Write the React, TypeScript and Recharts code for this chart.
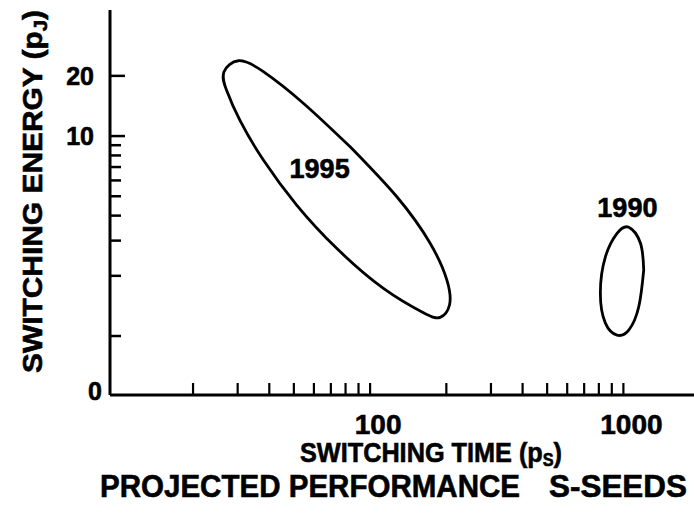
import { LineChart, Line, XAxis, YAxis, ReferenceDot } from 'recharts';

const X_MIN = 9.4;
const X_MAX = 1900;
const Y_MIN = 0.507;
const Y_MAX = 42.7;

const timeTicks = [20, 30, 40, 50, 60, 70, 80, 90, 100, 200, 300, 400, 500, 600, 700, 800, 900, 1000];
const timeLabels = [100, 1000];
const energyTicks = [Y_MIN, 1, 2, 3, 4, 5, 6, 7, 8, 9, 10, 20];
const energyLabels = [10, 20];

// outline of the 1995 region, clockwise from the middle of the upper edge
const seeds1995 = [
  { t: 83.4, e: 8.84 },
  { t: 127.5, e: 4.97 },
  { t: 172.6, e: 2.91 },
  { t: 201, e: 1.905 },
  { t: 205.8, e: 1.429 },
  { t: 189.1, e: 1.24 },
  { t: 162.4, e: 1.308 },
  { t: 112.9, e: 1.73 },
  { t: 73.8, e: 2.745 },
  { t: 51.3, e: 4.52 },
  { t: 37.9, e: 7.59 },
  { t: 30.6, e: 12.0 },
  { t: 27.1, e: 17.0 },
  { t: 26.5, e: 20.96 },
  { t: 30.2, e: 23.8 },
  { t: 37.9, e: 21.0 },
  { t: 54.5, e: 14.6 },
  { t: 83.4, e: 8.84 },
];

// outline of the 1990 region
const seeds1990 = [
  { t: 1203, e: 2.14 },
  { t: 1150, e: 1.4 },
  { t: 1050, e: 1.07 },
  { t: 944, e: 1.01 },
  { t: 849, e: 1.16 },
  { t: 811, e: 1.64 },
  { t: 849, e: 2.49 },
  { t: 944, e: 3.26 },
  { t: 1050, e: 3.5 },
  { t: 1168, e: 2.91 },
  { t: 1203, e: 2.14 },
];

const regionLabels = [
  { name: '1995', t: 63.2, e: 6.92 },
  { name: '1990', t: 1037, e: 4.42 },
];

const FONT = '"Liberation Sans", Arial, Helvetica, sans-serif';
const INK = '#000';
// the scanned lettering is heavier than a plain bold face
const heavy = { stroke: INK, strokeWidth: 0.6 };

function EnergyTick({ x, y, payload }: any) {
  const v = payload.value;
  if (v === Y_MIN) {
    return (
      <text x={x - 8} y={y - 4} dy="0.36em" textAnchor="end" fontFamily={FONT} fontWeight="bold" fontSize={25} fill={INK} {...heavy}>
        0
      </text>
    );
  }
  const major = energyLabels.includes(v);
  return (
    <g>
      <line x1={x} x2={x + (major ? 15 : 11)} y1={y} y2={y} stroke={INK} strokeWidth={2.5} />
      {major && (
        <text x={x - 16} y={y} dy="0.36em" textAnchor="end" fontFamily={FONT} fontWeight="bold" fontSize={25} fill={INK} {...heavy}>
          {v}
        </text>
      )}
    </g>
  );
}

function TimeTick({ x, y, payload }: any) {
  const v = payload.value;
  return (
    <g>
      <line x1={x} x2={x} y1={y} y2={y - 12} stroke={INK} strokeWidth={2.2} />
      {timeLabels.includes(v) && (
        <text x={x + 8} y={y + 39} textAnchor="middle" fontFamily={FONT} fontWeight="bold" fontSize={28} fill={INK} {...heavy}>
          {v}
        </text>
      )}
    </g>
  );
}

export default function App() {
  return (
    <div style={{ position: 'absolute', left: 0, top: 0, width: 694, height: 521, background: '#fff' }}>
      <LineChart width={694} height={521} margin={{ top: 10, right: 0, bottom: 0, left: 0 }}>
        <XAxis
          dataKey="t"
          type="number"
          scale="log"
          domain={[X_MIN, X_MAX]}
          allowDataOverflow
          ticks={timeTicks}
          interval={0}
          height={126}
          tickSize={0}
          tickMargin={0}
          tickLine={false}
          tick={<TimeTick />}
          axisLine={{ stroke: INK, strokeWidth: 3 }}
        />
        <YAxis
          dataKey="e"
          type="number"
          scale="log"
          domain={[Y_MIN, Y_MAX]}
          allowDataOverflow
          ticks={energyTicks}
          interval={0}
          width={110}
          tickSize={0}
          tickMargin={0}
          tickLine={false}
          tick={<EnergyTick />}
          axisLine={{ stroke: INK, strokeWidth: 3 }}
        />
        <Line data={seeds1995} dataKey="e" type="natural" stroke={INK} strokeWidth={2.8} dot={false} isAnimationActive={false} />
        <Line data={seeds1990} dataKey="e" type="natural" stroke={INK} strokeWidth={2.8} dot={false} isAnimationActive={false} />
        {regionLabels.map((r) => (
          <ReferenceDot
            key={r.name}
            x={r.t}
            y={r.e}
            r={0}
            fill="none"
            stroke="none"
            label={{ value: r.name, position: 'center', fontSize: 27, fontWeight: 'bold', fill: INK, fontFamily: FONT, ...heavy }}
          />
        ))}
      </LineChart>
      <svg width={694} height={521} style={{ position: 'absolute', left: 0, top: 0, pointerEvents: 'none' }}>
        <g fontFamily={FONT} fontWeight="bold" fill={INK} {...heavy}>
          <text x={42} y={373} transform="rotate(-90 42 373)" fontSize={28} textLength={363} lengthAdjust="spacingAndGlyphs">
            SWITCHING ENERGY (p<tspan fontSize={19} dy={5}>J</tspan><tspan dy={-5}>)</tspan>
          </text>
          <text x={300} y={462} fontSize={28} textLength={262} lengthAdjust="spacingAndGlyphs">
            SWITCHING TIME (p<tspan fontSize={18} dy={4}>S</tspan><tspan dy={-4}>)</tspan>
          </text>
          <text x={100} y={497} fontSize={31} textLength={420} lengthAdjust="spacingAndGlyphs">
            PROJECTED PERFORMANCE
          </text>
          <text x={549} y={497} fontSize={31} textLength={138} lengthAdjust="spacingAndGlyphs">
            S-SEEDS
          </text>
        </g>
      </svg>
    </div>
  );
}
